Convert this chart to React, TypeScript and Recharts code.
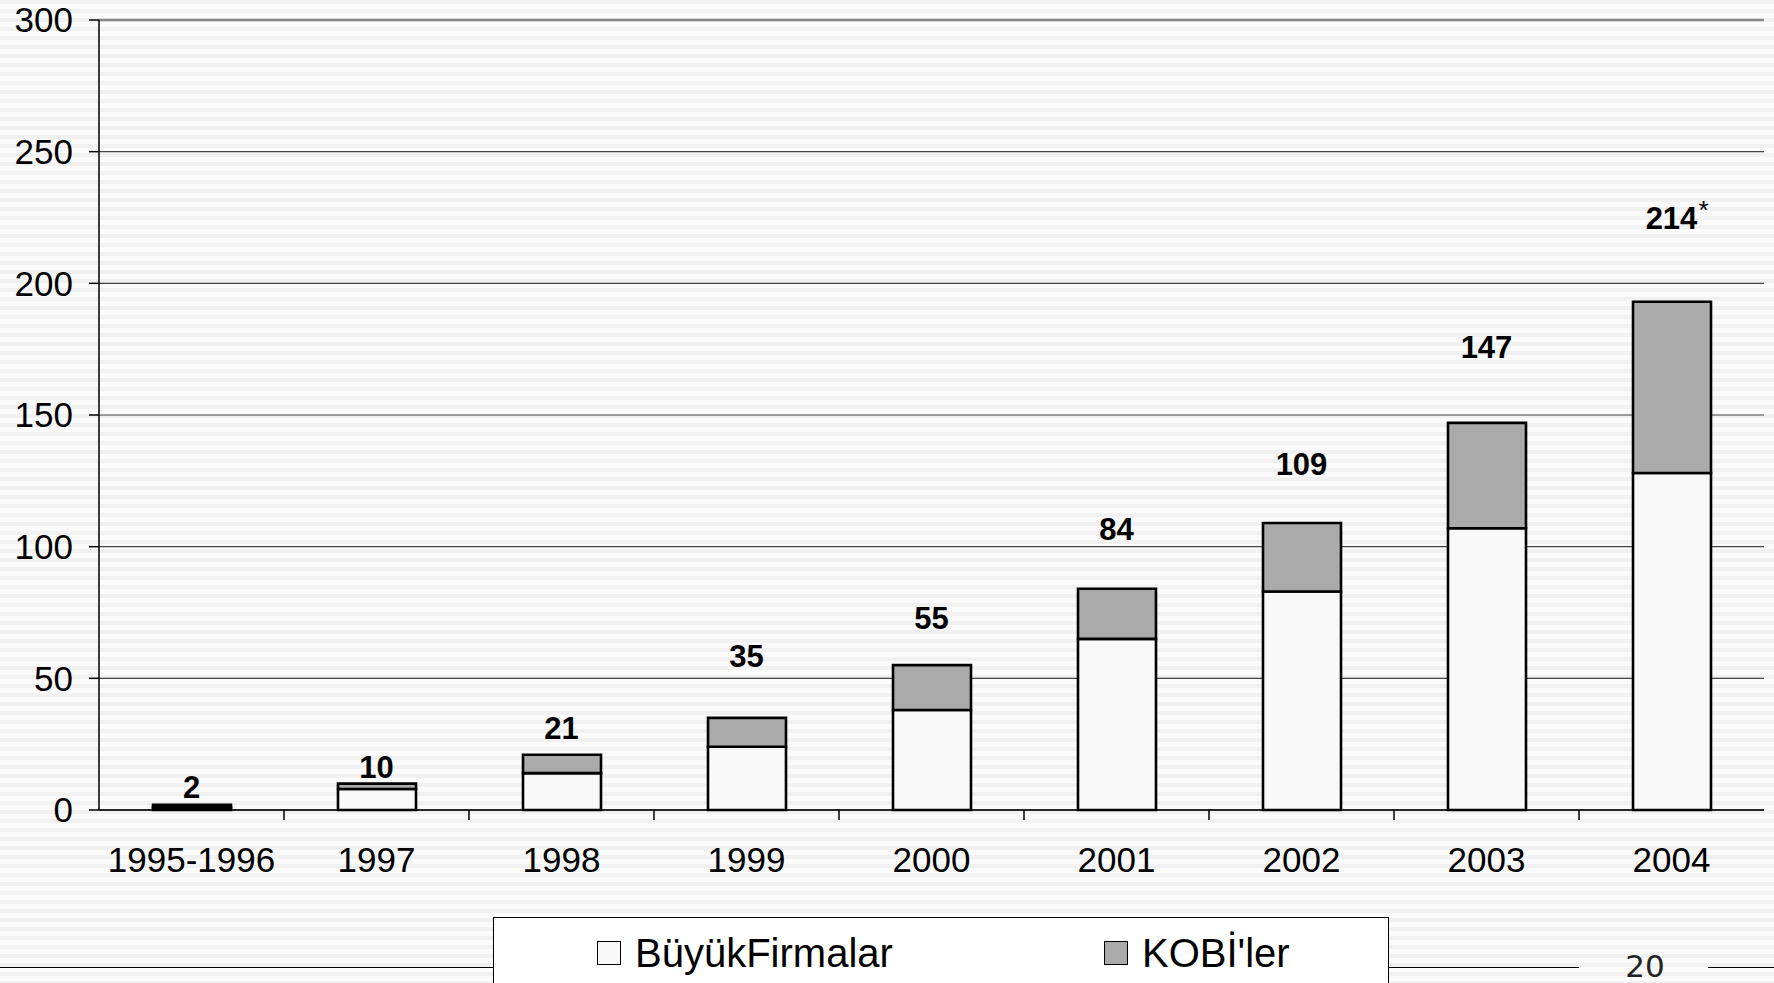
import React from 'react';
import { ComposedChart, Bar, Line, XAxis, YAxis, CartesianGrid, ReferenceLine, LabelList } from 'recharts';

const categories = ['1995-1996', '1997', '1998', '1999', '2000', '2001', '2002', '2003', '2004'];
const buyukFirmalar = [1, 8, 14, 24, 38, 65, 83, 107, 128];
const kobiler = [1, 2, 7, 11, 17, 19, 26, 40, 65];
const totals = [2, 10, 21, 35, 55, 84, 109, 147, 214];
const totalNotes = ['', '', '', '', '', '', '', '', '*'];
// height (in axis units) where each total label sits in the picture
const labelAt = [8.9, 16.3, 31.1, 58.5, 73, 106.7, 131.4, 176, 224.8];
const yTicks = [0, 50, 100, 150, 200, 250, 300];

const W = 1774;
const H = 983;
const FONT = '"Liberation Sans", Arial, sans-serif';
const PLOT_LEFT = 99;
const PLOT_RIGHT = 1764;
const BAND = (PLOT_RIGHT - PLOT_LEFT) / categories.length;

const data = categories.map((c, i) => ({
  name: c,
  buyuk: buyukFirmalar[i],
  kobi: kobiler[i],
  total: totals[i],
  note: totalNotes[i],
  labelAt: labelAt[i],
}));

function XTick(props: any) {
  const { x, y, payload, index } = props;
  return (
    <g>
      <text x={x} y={y} dy="0.71em" textAnchor="middle" fontSize={35} fill="#000" fontFamily={FONT}>
        {payload.value}
      </text>
      {index < categories.length - 1 && (
        <line x1={x + BAND / 2} x2={x + BAND / 2} y1={y - 37} y2={y - 27} stroke="#000" strokeWidth={1.5} />
      )}
    </g>
  );
}

function TotalLabel(props: any) {
  const { x, y, index } = props;
  const row = data[index];
  return (
    <g>
      <text x={x} y={y} dy="0.36em" textAnchor="middle" fontSize={31} fontWeight="bold" fill="#000" fontFamily={FONT}>
        {row.total}
      </text>
      {row.note && (
        <text x={x + 27} y={y + 1} fontSize={26} fill="#000" fontFamily={FONT}>
          {row.note}
        </text>
      )}
    </g>
  );
}

export default function App() {
  return (
    <div
      style={{
        position: 'absolute',
        left: 0,
        top: 0,
        width: W,
        height: H,
        overflow: 'hidden',
        background: 'repeating-linear-gradient(to bottom, #f1f1f1 0px, #f1f1f1 4px, #fbfbfb 4px, #fbfbfb 9px)',
        fontFamily: FONT,
      }}
    >
      <ComposedChart width={W} height={H} data={data} margin={{ top: 20, right: 10, left: 0, bottom: 113 }}>
        <CartesianGrid vertical={false} stroke="#444" strokeWidth={1.2} />
        <XAxis
          dataKey="name"
          height={60}
          tickLine={false}
          tickSize={10}
          tickMargin={27}
          interval={0}
          axisLine={{ stroke: '#000', strokeWidth: 1.5 }}
          tick={<XTick />}
        />
        <YAxis
          width={99}
          domain={[0, 300]}
          ticks={yTicks}
          tickSize={10}
          tickMargin={16}
          tick={{ fontSize: 35, fill: '#000', fontFamily: FONT }}
          tickLine={{ stroke: '#000', strokeWidth: 1.5 }}
          axisLine={{ stroke: '#000', strokeWidth: 1.5 }}
        />
        <YAxis
          yAxisId="r"
          orientation="right"
          width={0}
          domain={[0, 300]}
          tick={false}
          tickLine={false}
          axisLine={{ stroke: '#888', strokeWidth: 2.5 }}
        />
        <ReferenceLine y={300} stroke="#888" strokeWidth={2.5} />
        <Bar dataKey="buyuk" stackId="a" fill="#f8f8f8" stroke="#000" strokeWidth={2.6} barSize={78} isAnimationActive={false} />
        <Bar dataKey="kobi" stackId="a" fill="#aaaaaa" stroke="#000" strokeWidth={2.6} barSize={78} isAnimationActive={false} />
        <Line dataKey="labelAt" stroke="none" dot={false} activeDot={false} legendType="none" isAnimationActive={false}>
          <LabelList dataKey="total" content={<TotalLabel />} />
        </Line>
      </ComposedChart>

      {/* slide footer */}
      <div style={{ position: 'absolute', left: 0, top: 967, width: 1579, height: 0, borderTop: '1.5px solid #000' }} />
      <div style={{ position: 'absolute', left: 1708, top: 967, width: W - 1708, height: 0, borderTop: '1.5px solid #000' }} />
      <div
        style={{
          position: 'absolute',
          left: 1610,
          top: 946,
          width: 70,
          textAlign: 'center',
          fontFamily: '"DejaVu Sans", sans-serif',
          fontSize: 31,
          lineHeight: '40px',
          color: '#222',
        }}
      >
        20
      </div>

      {/* legend */}
      <div
        style={{
          position: 'absolute',
          left: 493,
          top: 917,
          width: 896,
          height: 100,
          background: '#fff',
          border: '1.5px solid #000',
          boxSizing: 'border-box',
        }}
      >
        {[
          { label: 'BüyükFirmalar', fill: '#f8f8f8', left: 103 },
          { label: "KOBİ'ler", fill: '#aaaaaa', left: 610 },
        ].map((item) => (
          <div key={item.label} style={{ position: 'absolute', left: item.left, top: 10, display: 'flex', alignItems: 'center', height: 50 }}>
            <div style={{ width: 22, height: 22, background: item.fill, border: '1.5px solid #000', marginRight: 14 }} />
            <span style={{ fontSize: 40, color: '#000', fontFamily: FONT, lineHeight: '50px' }}>{item.label}</span>
          </div>
        ))}
      </div>
    </div>
  );
}
